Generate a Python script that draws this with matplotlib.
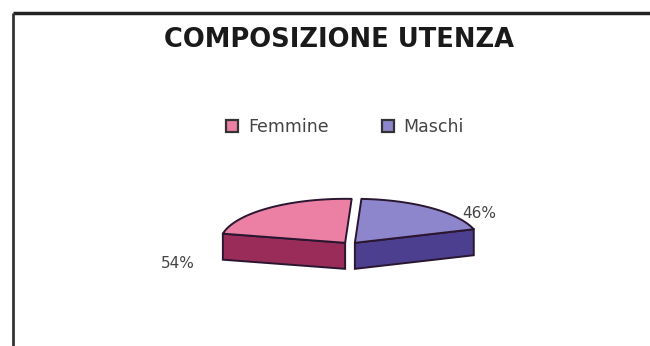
import numpy as np
import matplotlib
matplotlib.use('Agg')
import matplotlib.pyplot as plt
from matplotlib.patches import Polygon
from matplotlib.lines import Line2D

# Dati
categorie = ["Femmine", "Maschi"]
valori = [54, 46]
etichette = ["54%", "46%"]
colori_top = ["#ec7fa4", "#8e86cc"]
colori_lato = ["#9a2c5a", "#4d3f8f"]

fig = plt.figure(figsize=(6.5, 3.46), dpi=100)
ax = fig.add_axes([0, 0, 1, 1])
ax.set_xlim(0, 650)
ax.set_ylim(346, 0)
ax.axis('off')

# cornice del grafico (tagliata a destra e in basso)
ax.plot([13, 650], [13, 13], color="#222222", lw=2.5, solid_capstyle='butt')
ax.plot([13, 13], [13, 346], color="#333333", lw=2.0, solid_capstyle='butt')

ax.text(339, 40, "COMPOSIZIONE UTENZA", ha='center', va='center',
        fontsize=18.5, fontweight='heavy', color="#1a1a1a", family="DejaVu Sans")

# torta 3D "a mezzaluna"
cx, cy = 350, 246
rx, ry = 125, 44
spessore = 26
esplodi = 8
inizio, ampiezza = 168, 150

tot = sum(valori)
a0 = inizio
for i, v in enumerate(valori):
    a1 = a0 - ampiezza * v / tot
    b = np.radians((a0 + a1) / 2)
    ox = cx + esplodi * np.cos(b)
    oy = cy - esplodi * np.sin(b) * 0.5
    t = np.radians(np.linspace(a0, a1, 60))
    arco = np.column_stack([ox + rx * np.cos(t), oy - ry * np.sin(t)])
    centro = np.array([ox, oy])
    # lato frontale lungo il taglio visibile
    if i == 0:
        p1, p2 = arco[0], centro
    else:
        p1, p2 = centro, arco[-1]
    lato = [p1, p2, p2 + [0, spessore], p1 + [0, spessore]]
    ax.add_patch(Polygon(lato, closed=True, fc=colori_lato[i], ec="#2a1630", lw=1.4, zorder=2))
    faccia = np.vstack([centro, arco])
    ax.add_patch(Polygon(faccia, closed=True, fc=colori_top[i], ec="#2a1630", lw=1.4,
                         joinstyle='round', zorder=3))
    a0 = a1

ax.text(178, 263, etichette[0], ha='center', va='center', fontsize=11, color="#444444")
ax.text(479, 214, etichette[1], ha='center', va='center', fontsize=11, color="#444444")

handles = [Line2D([], [], ls='', marker='s', markersize=8, mfc=colori_top[i],
                  mec="#333333", mew=1.6, label=categorie[i]) for i in range(2)]
leg = ax.legend(handles=handles, loc='center', bbox_to_anchor=(0.53, 0.633), ncol=2,
                frameon=False, fontsize=12.5, handlelength=0.8,
                handletextpad=0.5, columnspacing=3.0)
for txt in leg.get_texts():
    txt.set_color("#444444")

fig.savefig("out.png", dpi=100, facecolor="white")
